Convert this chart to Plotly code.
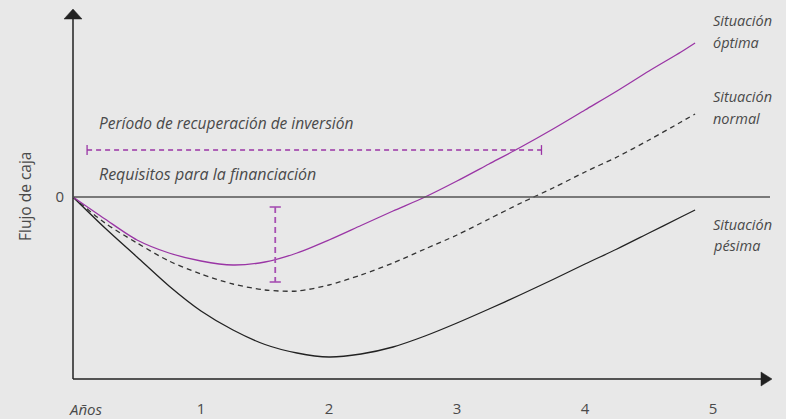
import plotly.graph_objects as go

# ---- data (years, cash flow in arbitrary units) ----
years = [0, 0.25, 0.5, 0.75, 1.0, 1.25, 1.5, 1.75, 2.0, 2.25, 2.5, 2.75, 3.0,
         3.25, 3.5, 3.75, 4.0, 4.25, 4.5, 4.75, 4.86]
optima = [0, -2.2, -4.3, -5.6, -6.4, -6.8, -6.5, -5.6, -4.3, -2.85, -1.4, 0.0, 1.6,
          3.3, 5.0, 6.8, 8.7, 10.6, 12.6, 14.5, 15.4]
normal_ = [0, -2.6, -4.6, -6.4, -7.7, -8.7, -9.3, -9.4, -8.8, -7.8, -6.6, -5.2, -3.8,
           -2.2, -0.6, 0.9, 2.5, 4.0, 5.7, 7.5, 8.3]
pesima = [0, -3.1, -6.0, -8.9, -11.4, -13.3, -14.75, -15.6, -16.0, -15.7, -15.0, -13.9, -12.6,
          -11.2, -9.75, -8.25, -6.7, -5.2, -3.6, -2.0, -1.3]

payback_x = [0.11, 3.66]
payback_y = [4.7, 4.7]
financing_x = [1.58, 1.58]
financing_y = [-1.0, -8.5]

x_ticks = [1, 2, 3, 4, 5]
x_ticktext = ["1", "2", "3", "4", "5"]

BG = "#e8e8e8"
TXT = "#4a4a4a"
PURPLE = "#9a35a5"
PURPLE_L = "#a64fb2"
FONT = "Open Sans"

fig = go.Figure()

fig.add_trace(go.Scatter(x=years, y=pesima, mode="lines", line=dict(color="#222222", width=1.3, shape="spline", smoothing=0.8), hoverinfo="skip"))
fig.add_trace(go.Scatter(x=years, y=normal_, mode="lines", line=dict(color="#333333", width=1.3, dash="5px,4px", shape="spline", smoothing=0.8), hoverinfo="skip"))
fig.add_trace(go.Scatter(x=years, y=optima, mode="lines", line=dict(color=PURPLE, width=1.3, shape="spline", smoothing=0.8), hoverinfo="skip"))

fig.add_trace(go.Scatter(x=payback_x, y=payback_y, mode="lines+markers",
                         line=dict(color=PURPLE, width=1.3, dash="5px,4px"),
                         marker=dict(symbol="line-ns", size=7, line=dict(color=PURPLE, width=1.3)),
                         hoverinfo="skip"))
fig.add_trace(go.Scatter(x=financing_x, y=financing_y, mode="lines+markers",
                         line=dict(color=PURPLE_L, width=1.8, dash="6px,4px"),
                         marker=dict(symbol="line-ew", size=8, line=dict(color=PURPLE_L, width=1.6)),
                         hoverinfo="skip"))

W, H = 786, 419
L, R, T, B = 73, 15, 10, 40
pw, ph = W - L - R, H - T - B

def px(x):
    return (x - L) / pw

def py(y):
    return (H - B - y) / ph

AX = "#222222"
shapes = [
    # y axis + arrow
    dict(type="line", xref="paper", yref="paper", x0=0, x1=0, y0=0, y1=py(19), line=dict(color=AX, width=1.5)),
    dict(type="path", xref="paper", yref="paper",
         path=f"M {px(73)} {py(9)} L {px(64)} {py(19)} L {px(82)} {py(19)} Z",
         fillcolor=AX, line=dict(color=AX, width=0.5)),
    # x axis + arrow
    dict(type="line", xref="paper", yref="paper", x0=0, x1=px(762), y0=0, y1=0, line=dict(color=AX, width=1.5)),
    dict(type="path", xref="paper", yref="paper",
         path=f"M {px(772)} {py(379)} L {px(761)} {py(372)} L {px(761)} {py(386)} Z",
         fillcolor=AX, line=dict(color=AX, width=0.5)),
    # zero line
    dict(type="line", xref="paper", yref="y", x0=0, x1=px(770), y0=0, y1=0, line=dict(color="#555555", width=1.4)),
]

annotations = [
    dict(text="<i>Período de recuperación de inversión</i>", x=0.19, y=7.4, xref="x", yref="y",
         xanchor="left", yanchor="middle", showarrow=False, font=dict(size=15.5, color=TXT, family=FONT)),
    dict(text="<i>Requisitos para la financiación</i>", x=0.19, y=2.3, xref="x", yref="y",
         xanchor="left", yanchor="middle", showarrow=False, font=dict(size=16, color=TXT, family=FONT)),
    dict(text="<i>Años</i>", x=px(67), y=py(409), xref="paper", yref="paper",
         xanchor="left", yanchor="middle", showarrow=False, font=dict(size=15, color=TXT, family=FONT)),
    dict(text="Flujo de caja", x=px(25), y=0, xref="paper", yref="y", textangle=-90,
         xanchor="center", yanchor="middle", showarrow=False, font=dict(size=15.5, color=TXT, family=FONT)),
]
for lines, ys in [(["Situación", "óptima"], [20, 42]),
                  (["Situación", "normal"], [97, 118]),
                  (["Situación", "pésima"], [225, 246])]:
    for t, yy in zip(lines, ys):
        annotations.append(dict(text=f"<i>{t}</i>", x=px(711), y=py(yy), xref="paper", yref="paper",
                                xanchor="left", yanchor="middle", showarrow=False,
                                font=dict(size=14.5, color=TXT, family=FONT)))

fig.update_layout(
    width=W, height=H,
    margin=dict(l=L, r=R, t=T, b=B, autoexpand=False),
    paper_bgcolor=BG, plot_bgcolor=BG,
    showlegend=False,
    shapes=shapes,
    annotations=annotations,
    xaxis=dict(range=[0, pw / 128], showgrid=False, zeroline=False, showline=False,
               tickvals=x_ticks, ticktext=x_ticktext, ticks="", ticklabelstandoff=19,
               automargin=False,
               tickfont=dict(size=15, color=TXT, family=FONT), fixedrange=True),
    yaxis=dict(range=[-18.2, 18.7], showgrid=False, zeroline=False, showline=False,
               tickvals=[0], ticktext=["0"], ticks="", ticklabelstandoff=8,
               automargin=False,
               tickfont=dict(size=15, color=TXT, family=FONT), fixedrange=True),
)

fig.write_html("out.html", config={"displayModeBar": False},
               post_script="document.body.style.margin='0';document.body.style.overflow='hidden';")
